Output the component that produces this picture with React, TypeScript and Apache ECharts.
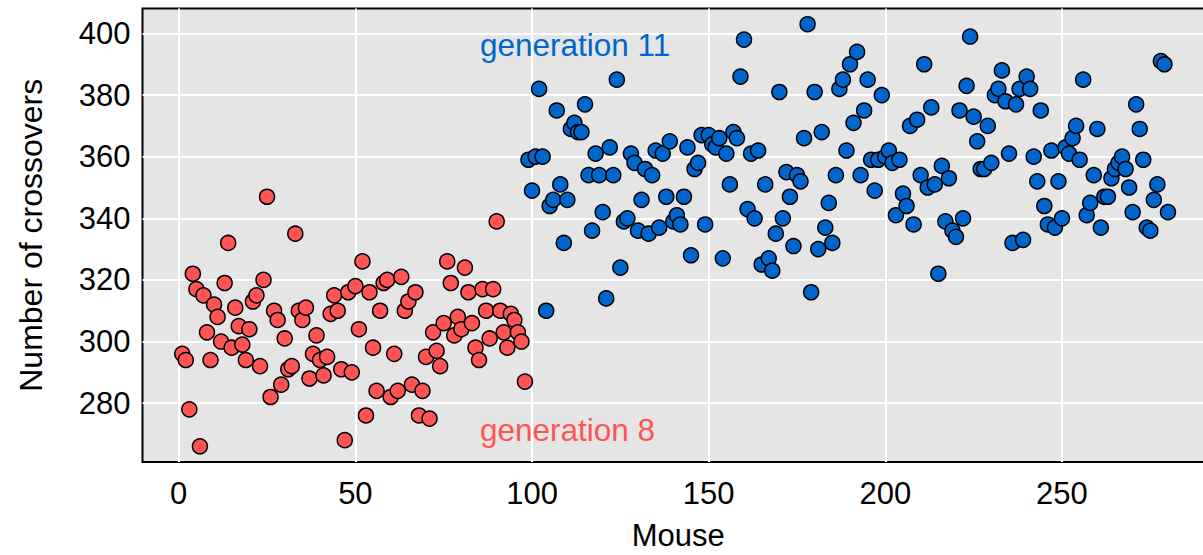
import React, { useEffect, useRef } from "react";
import * as echarts from "echarts";

// Mouse numbers where each generation starts
const gen8Start = 1;
const gen11Start = 99;

// Number of crossovers per mouse, generation 8 (mice 1..98)
const gen8Values = [
  296, 294, 278, 322, 317, 266, 315, 303, 294, 312,
  308, 300, 319, 332, 298, 311, 305, 299, 294, 304,
  313, 315, 292, 320, 347, 282, 310, 307, 286, 301,
  291, 292, 335, 310, 307, 311, 288, 296, 302, 294,
  289, 295, 309, 315, 310, 291, 268, 316, 290, 318,
  304, 326, 276, 316, 298, 284, 310, 319, 320, 282,
  296, 284, 321, 310, 313, 286, 316, 276, 284, 295,
  275, 303, 297, 292, 306, 326, 319, 302, 308, 304,
  324, 316, 306, 298, 294, 317, 310, 301, 317, 339,
  310, 303, 298, 309, 307, 303, 300, 287,
];

// Number of crossovers per mouse, generation 11 (mice 99..280)
const gen11Values = [
  359, 349, 360, 382, 360, 310, 344, 346, 375, 351,
  332, 346, 369, 371, 368, 368, 377, 354, 336, 361,
  354, 342, 314, 363, 354, 385, 324, 339, 340, 361,
  358, 336, 346, 356, 335, 354, 362, 337, 361, 347,
  365, 339, 341, 338, 347, 363, 328, 356, 358, 367,
  338, 367, 364, 363, 366, 327, 361, 351, 368, 366,
  386, 398, 343, 361, 340, 362, 325, 351, 327, 323,
  335, 381, 340, 355, 347, 331, 354, 352, 366, 403,
  316, 381, 330, 368, 337, 345, 332, 354, 382, 385,
  362, 390, 371, 394, 354, 375, 385, 359, 349, 359,
  380, 360, 362, 358, 341, 359, 348, 344, 370, 338,
  372, 354, 390, 350, 376, 351, 322, 357, 339, 353,
  336, 334, 375, 340, 383, 399, 373, 365, 356, 356,
  370, 358, 380, 382, 388, 378, 361, 332, 377, 382,
  333, 386, 382, 360, 352, 375, 344, 338, 362, 337,
  352, 340, 363, 361, 366, 370, 359, 385, 341, 345,
  354, 369, 337, 347, 347, 353, 356, 358, 360, 356,
  350, 342, 377, 369, 359, 337, 336, 346, 351, 391,
  390, 342,
];

const xTicks = [0, 50, 100, 150, 200, 250];
const yTicks = [280, 300, 320, 340, 360, 380, 400];

const labels = { gen8: "generation 8", gen11: "generation 11" };
const xTitle = "Mouse";
const yTitle = "Number of crossovers";

const RED = "#FF5454";
const BLUE = "#0066CC";
const FONT = "'Liberation Sans', Arial, Helvetica, sans-serif";

export default function App() {
  const ref = useRef<HTMLDivElement>(null);

  useEffect(() => {
    if (!ref.current) return;
    const chart = echarts.init(ref.current, undefined, { renderer: "svg" });
    const d8 = gen8Values.map((v, i) => [gen8Start + i, v]);
    const d11 = gen11Values.map((v, i) => [gen11Start + i, v]);

    chart.setOption({
      animation: false,
      backgroundColor: "#ffffff",
      textStyle: { fontFamily: FONT },
      grid: {
        left: 142.5,
        top: 8.5,
        width: 1071.4,
        height: 453.5,
        show: true,
        backgroundColor: "#E5E5E5",
        borderColor: "#000000",
        borderWidth: 2,
        containLabel: false,
        outerBoundsMode: "none",
      },
      xAxis: {
        type: "value",
        min: -10.25,
        max: 293,
        minInterval: 50,
        maxInterval: 50,
        name: xTitle,
        nameLocation: "middle",
        nameGap: 58,
        nameTextStyle: { fontSize: 31, color: "#000", fontFamily: FONT },
        axisLine: { show: false },
        axisTick: { show: false },
        axisLabel: {
          fontSize: 31,
          color: "#000",
          margin: 16,
          showMinLabel: false,
          showMaxLabel: false,
          fontFamily: FONT,
          formatter: (v: number) => (xTicks.includes(v) ? String(v) : ""),
        },
        splitLine: {
          show: true,
          showMinLine: false,
          showMaxLine: false,
          lineStyle: { color: "#ffffff", width: 2 },
        },
      },
      yAxis: {
        type: "value",
        min: 260.9,
        max: 408.1,
        minInterval: 20,
        maxInterval: 20,
        name: yTitle,
        nameLocation: "middle",
        nameGap: 96,
        nameRotate: 90,
        nameTextStyle: { fontSize: 32, color: "#000", fontFamily: FONT },
        axisLine: { show: false },
        axisTick: { show: false },
        axisLabel: {
          fontSize: 31,
          color: "#000",
          margin: 12,
          showMinLabel: false,
          showMaxLabel: false,
          fontFamily: FONT,
          formatter: (v: number) => (yTicks.includes(v) ? String(v) : ""),
        },
        splitLine: {
          show: true,
          showMinLine: false,
          showMaxLine: false,
          lineStyle: { color: "#ffffff", width: 2 },
        },
      },
      graphic: [
        {
          type: "text",
          left: 480,
          top: 29,
          style: { text: labels.gen11, fill: BLUE, fontSize: 31.5, fontFamily: FONT },
          z: 100,
        },
        {
          type: "text",
          left: 480,
          top: 414,
          style: { text: labels.gen8, fill: RED, fontSize: 31.5, fontFamily: FONT },
          z: 100,
        },
      ],
      series: [
        {
          type: "scatter",
          data: d8,
          symbol: "circle",
          symbolSize: 15,
          itemStyle: { color: RED, borderColor: "#000", borderWidth: 1.5, opacity: 1 },
        },
        {
          type: "scatter",
          data: d11,
          symbol: "circle",
          symbolSize: 15,
          itemStyle: { color: BLUE, borderColor: "#000", borderWidth: 1.5, opacity: 1 },
        },
      ],
    });
    return () => chart.dispose();
  }, []);

  return (
    <div
      style={{
        position: "fixed",
        left: 0,
        top: 0,
        width: 1203,
        height: 555,
        overflow: "hidden",
        background: "#fff",
      }}
    >
      <div ref={ref} style={{ width: 1240, height: 555 }} />
    </div>
  );
}
